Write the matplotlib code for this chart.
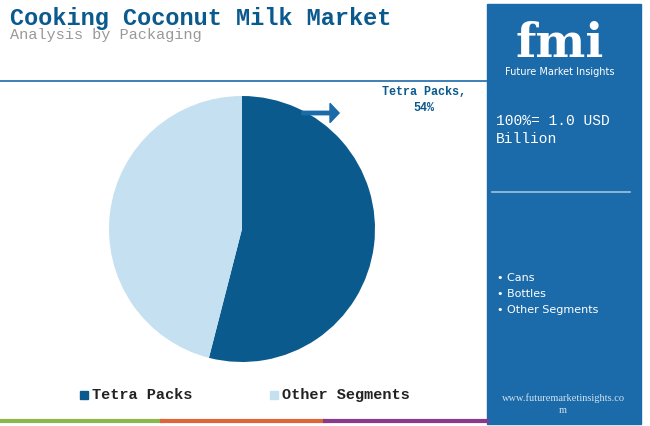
import matplotlib.pyplot as plt
from matplotlib.patches import Rectangle, FancyArrow

segments = ["Tetra Packs", "Other Segments"]
shares = [54, 46]
colors = ["#0b5a8e", "#c5e0f0"]
side_items = ["Cans", "Bottles", "Other Segments"]

W, H = 650, 427
fig = plt.figure(figsize=(6.5, 4.27), dpi=100)
mono = "Liberation Mono"

def px(x, y):
    return x / W, 1 - y / H

# right panel
fig.patches.append(Rectangle(px(487, 425), 154 / W, 420 / H, transform=fig.transFigure,
                             color="#1b6aa9", zorder=0))
# header line
fig.add_artist(plt.Line2D([0, 487 / W], [px(0, 82)[1]] * 2, color="#1b6aa9", lw=1.2))
fig.add_artist(plt.Line2D([492 / W, 630 / W], [px(0, 193)[1]] * 2, color="#9ec3e0", lw=1.2))
# bottom stripes
for x0, x1, c in [(0, 162, "#8bb84a"), (162, 325, "#e0643a"), (325, 487, "#8a3a8e")]:
    fig.add_artist(plt.Line2D([x0 / W, x1 / W], [px(0, 422)[1]] * 2, color=c, lw=3))

fig.text(*px(10, 18), "Cooking Coconut Milk Market", fontfamily=mono, fontsize=17,
         fontweight="bold", color="#0b5a8e", va="center")
fig.text(*px(10, 35), "Analysis by Packaging", fontfamily=mono, fontsize=11,
         color="#999999", va="center")

# fmi logo text
fig.text(*px(560, 44), "fmi", fontsize=34, fontweight="bold", color="white",
         ha="center", va="center", fontfamily="DejaVu Serif")
fig.text(*px(560, 72), "Future Market Insights", fontsize=7, color="white",
         ha="center", va="center", fontfamily="Liberation Sans Narrow")
fig.text(*px(496, 130), "100%= 1.0 USD\nBillion", fontfamily=mono, fontsize=10.5,
         color="white", va="center", linespacing=1.3)
for i, s in enumerate(side_items):
    fig.text(*px(497, 278 + i * 16), "\u2022 " + s, fontsize=8, color="white",
             va="center", fontfamily="DejaVu Sans")
fig.text(*px(563, 398), "www.futuremarketinsights.co", fontfamily="Liberation Serif",
         fontsize=7.5, color="#d0e4f2", ha="center", va="center")
fig.text(*px(563, 411), "m", fontfamily="Liberation Serif", fontsize=7.5,
         color="#d0e4f2", ha="center", va="center")

ax = fig.add_axes([109 / W, (197 - 133) / H, 266 / W, 266 / H])
ax.pie(shares, colors=colors, startangle=90, counterclock=False)
ax.set_xlim(-1, 1)
ax.set_ylim(-1, 1)
ax.set_aspect("equal")

fig.add_artist(FancyArrow(302 / W, px(0, 114)[1], 28 / W, 0, width=0.008,
                          head_width=0.045, head_length=0.014, color="#1b6aa9",
                          transform=fig.transFigure))
fig.text(*px(424, 100), "Tetra Packs,\n54%", fontfamily=mono, fontsize=8.5,
         fontweight="bold", color="#0b5a8e", ha="center", va="center", linespacing=1.4)

# legend
for x, lab, c in [(80, segments[0], colors[0]), (270, segments[1], colors[1])]:
    fig.patches.append(Rectangle(px(x, 400), 8 / W, 8 / H, transform=fig.transFigure, color=c))
    fig.text(*px(x + 12, 395), lab, fontfamily=mono, fontsize=11, fontweight="bold",
             color="#222222", va="center")

fig.savefig("out.png", dpi=100)
